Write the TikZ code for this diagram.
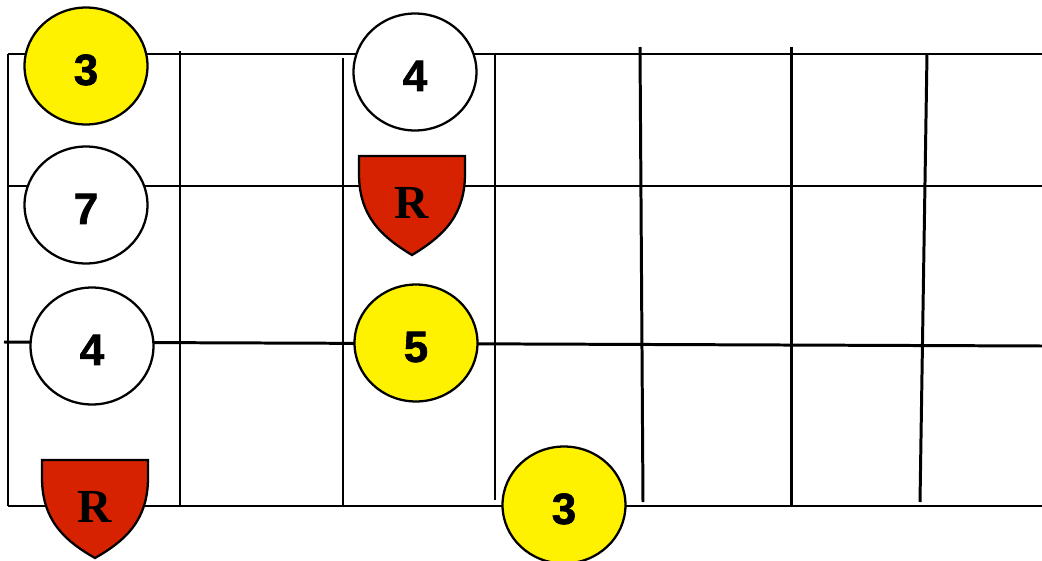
\documentclass[tikz,border=0pt]{standalone}
\usepackage{fontspec}
\setmainfont{Liberation Serif}
\newfontfamily\digitfont{Liberation Sans}[BoldFeatures={FakeBold=1.4}]
\usepackage{tikz}
\usetikzlibrary{shapes.geometric}
\definecolor{rootred}{RGB}{214,34,0}
\tikzset{
  fret/.style={line width=1.7pt},
  dot/.style={ellipse, draw, line width=1.3pt, minimum width=2.46cm, minimum height=2.34cm, inner sep=0pt, text height=0.76cm, text depth=0pt, font=\digitfont\bfseries\fontsize{25}{25}\selectfont},
  yellowdot/.style={dot, fill=yellow},
  whitedot/.style={dot, fill=white},
  shield/.style={draw, line width=1.3pt, fill=rootred},
  rootlabel/.style={inner sep=0pt, font=\bfseries\fontsize{27}{27}\selectfont}
}

\begin{document}
\begin{tikzpicture}[x=0.02cm, y=-0.02cm]
\useasboundingbox (0,0) rectangle (1042,561);
% strings
\draw[fret] (8,54) -- (1042,54);
\draw[fret] (8,186) -- (1042,186);
\draw[fret] (4,342) -- (1042,346);
\draw[fret] (8,506) -- (1042,506);
% frets
\draw[fret] (8,54) -- (8,506);
\draw[fret] (180,51) -- (180,506);
\draw[fret] (343,58) -- (343,506);
\draw[fret] (495,54) -- (495,500);
\draw[fret] (640,47) -- (643,502);
\draw[fret] (791,47) -- (791,506);
\draw[fret] (927,54) -- (920,502);
% notes
\node (third top) at (86,66) [yellowdot] {3};
\node (fourth top) at (415,72) [whitedot] {4};
\node (seventh) at (86,205) [whitedot] {7};
\node (fourth mid) at (92,346) [whitedot] {4};
\node (fifth) at (416,343) [yellowdot] {5};
\node (third low) at (564,505) [yellowdot] {3};
% roots
\draw[shield] (359,156) -- (465,156) -- (465,174) .. controls (465,218) and (440,238) .. (412,255) .. controls (384,238) and (359,218) .. (359,174) -- cycle;
\node (root top) at (412,203) [rootlabel] {R};
\draw[shield] (42,460) -- (148,460) -- (148,478) .. controls (148,522) and (123,542) .. (95,558) .. controls (67,542) and (42,522) .. (42,478) -- cycle;
\node (root low) at (95,507) [rootlabel] {R};
\end{tikzpicture}
\end{document}
